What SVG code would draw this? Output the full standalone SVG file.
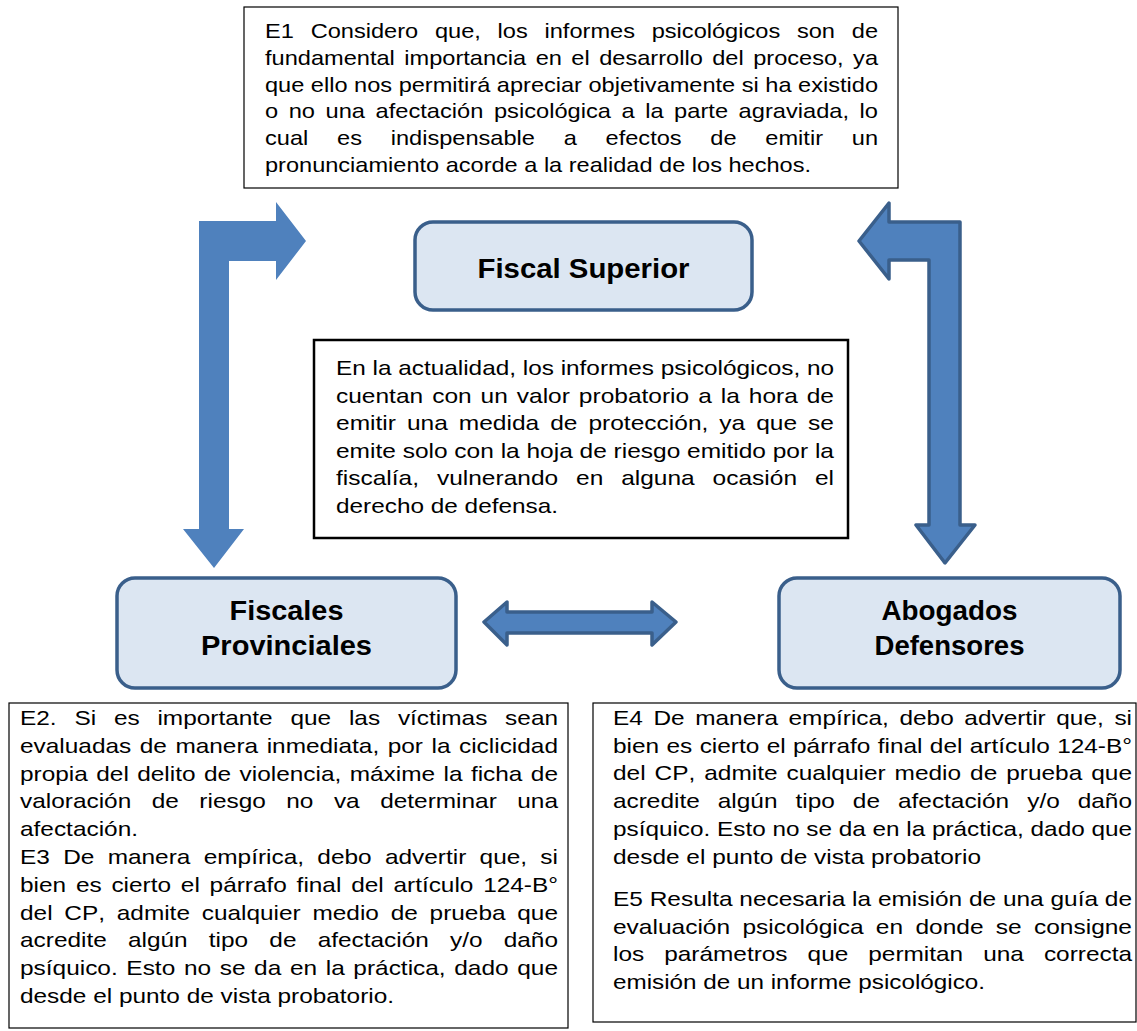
<svg xmlns="http://www.w3.org/2000/svg" width="1137" height="1031" viewBox="0 0 1137 1031">
<style>
.bg{fill:#ffffff}
.note{fill:#ffffff;stroke:#000000;stroke-width:1.2}
.note2{fill:#ffffff;stroke:#000000;stroke-width:2.5}
.node{fill:#DCE6F2;stroke:#3A5F8B;stroke-width:3.5}
.arr{fill:#4F81BD}
.arro{fill:#4F81BD;stroke:#3A5F8B;stroke-width:3.5;stroke-linejoin:round}
text{font-family:"Liberation Sans",Arial,Helvetica,sans-serif;fill:#000000;font-kerning:none}
.t{font-size:21px}
.tt{font-size:20.3px}
.h{font-size:27px;font-weight:bold;text-anchor:middle}
</style>
<rect class="bg" x="0" y="0" width="1137" height="1031"/>

<g id="connectors">
  <polygon class="arr" points="199,221 276,221 276,202 306,241 276,280 276,261 229,261 229,529 244,529 214,568 183,529 199,529"/>
  <polygon class="arro" points="960,222 960,525 975,525 945,563 916,525 929,525 929,260 889,260 889,279 859,241 889,203 889,222"/>
  <polygon class="arro" points="484,622 507,602 507,612 652,612 652,602 676,622 652,645 652,633 507,633 507,645"/>
</g>

<g id="node-e1">
  <rect class="note" x="244" y="7" width="654" height="181"/>
  <text class="tt" x="265" y="38.3" textLength="613" lengthAdjust="spacingAndGlyphs" style="word-spacing:8.8px">E1 Considero que, los informes psicológicos son de</text>
  <text class="tt" x="265" y="65" textLength="613" lengthAdjust="spacingAndGlyphs" style="word-spacing:2.5px">fundamental importancia en el desarrollo del proceso, ya</text>
  <text class="tt" x="265" y="91.7" textLength="613" lengthAdjust="spacingAndGlyphs">que ello nos permitirá apreciar objetivamente si ha existido</text>
  <text class="tt" x="265" y="118.4" textLength="613" lengthAdjust="spacingAndGlyphs" style="word-spacing:3.4px">o no una afectación psicológica a la parte agraviada, lo</text>
  <text class="tt" x="265" y="145" textLength="613" lengthAdjust="spacingAndGlyphs" style="word-spacing:19.1px">cual es indispensable a efectos de emitir un</text>
  <text class="tt" x="265" y="171.7" textLength="546" lengthAdjust="spacingAndGlyphs">pronunciamiento acorde a la realidad de los hechos.</text>
</g>

<g id="node-fiscal-superior">
  <rect class="node" x="415" y="222" width="337" height="88" rx="18" ry="18"/>
  <text class="h" x="583.5" y="278" textLength="212" lengthAdjust="spacingAndGlyphs">Fiscal Superior</text>
</g>

<g id="node-center">
  <rect class="note2" x="314" y="340" width="534" height="198"/>
  <text class="t" x="336" y="375" textLength="498" lengthAdjust="spacingAndGlyphs">En la actualidad, los informes psicológicos, no</text>
  <text class="t" x="336" y="402.6" textLength="498" lengthAdjust="spacingAndGlyphs" style="word-spacing:1.85px">cuentan con un valor probatorio a la hora de</text>
  <text class="t" x="336" y="430.2" textLength="498" lengthAdjust="spacingAndGlyphs" style="word-spacing:3.6px">emitir una medida de protección, ya que se</text>
  <text class="t" x="336" y="457.8" textLength="498" lengthAdjust="spacingAndGlyphs">emite solo con la hoja de riesgo emitido por la</text>
  <text class="t" x="336" y="485.4" textLength="498" lengthAdjust="spacingAndGlyphs" style="word-spacing:9.5px">fiscalía, vulnerando en alguna ocasión el</text>
  <text class="t" x="336" y="513" textLength="222" lengthAdjust="spacingAndGlyphs">derecho de defensa.</text>
</g>

<g id="node-fiscales-provinciales">
  <rect class="node" x="117" y="578" width="339" height="110" rx="18" ry="18"/>
  <text class="h" x="286.5" y="620" textLength="114" lengthAdjust="spacingAndGlyphs">Fiscales</text>
  <text class="h" x="286.5" y="655" textLength="171" lengthAdjust="spacingAndGlyphs">Provinciales</text>
</g>

<g id="node-abogados-defensores">
  <rect class="node" x="779" y="578" width="341" height="110" rx="18" ry="18"/>
  <text class="h" x="949.5" y="620" textLength="136" lengthAdjust="spacingAndGlyphs">Abogados</text>
  <text class="h" x="949.5" y="655" textLength="150" lengthAdjust="spacingAndGlyphs">Defensores</text>
</g>

<g id="node-e2-e3">
  <rect class="note" x="9" y="703" width="559" height="325"/>
  <text class="t" x="20" y="725" textLength="538" lengthAdjust="spacingAndGlyphs" style="word-spacing:9.5px">E2. Si es importante que las víctimas sean</text>
  <text class="t" x="20" y="752.8" textLength="538" lengthAdjust="spacingAndGlyphs" style="word-spacing:1.5px">evaluadas de manera inmediata, por la ciclicidad</text>
  <text class="t" x="20" y="780.6" textLength="538" lengthAdjust="spacingAndGlyphs" style="word-spacing:1.4px">propia del delito de violencia, máxime la ficha de</text>
  <text class="t" x="20" y="808.4" textLength="538" lengthAdjust="spacingAndGlyphs" style="word-spacing:11.8px">valoración de riesgo no va determinar una</text>
  <text class="t" x="20" y="836.2" textLength="118" lengthAdjust="spacingAndGlyphs">afectación.</text>
  <text class="t" x="20" y="864" textLength="538" lengthAdjust="spacingAndGlyphs" style="word-spacing:5.6px">E3 De manera empírica, debo advertir que, si</text>
  <text class="t" x="20" y="891.8" textLength="538" lengthAdjust="spacingAndGlyphs" style="word-spacing:2.6px">bien es cierto el párrafo final del artículo 124-B°</text>
  <text class="t" x="20" y="919.6" textLength="538" lengthAdjust="spacingAndGlyphs" style="word-spacing:4.3px">del CP, admite cualquier medio de prueba que</text>
  <text class="t" x="20" y="947.4" textLength="538" lengthAdjust="spacingAndGlyphs" style="word-spacing:12.4px">acredite algún tipo de afectación y/o daño</text>
  <text class="t" x="20" y="975.2" textLength="538" lengthAdjust="spacingAndGlyphs" style="word-spacing:1.6px">psíquico. Esto no se da en la práctica, dado que</text>
  <text class="t" x="20" y="1003" textLength="374" lengthAdjust="spacingAndGlyphs">desde el punto de vista probatorio.</text>
</g>

<g id="node-e4-e5">
  <rect class="note" x="593" y="703" width="543" height="319"/>
  <text class="t" x="613" y="725" textLength="519" lengthAdjust="spacingAndGlyphs" style="word-spacing:3.3px">E4 De manera empírica, debo advertir que, si</text>
  <text class="t" x="613" y="752.7" textLength="519" lengthAdjust="spacingAndGlyphs" style="word-spacing:0.5px">bien es cierto el párrafo final del artículo 124-B°</text>
  <text class="t" x="613" y="780.4" textLength="519" lengthAdjust="spacingAndGlyphs" style="word-spacing:1.9px">del CP, admite cualquier medio de prueba que</text>
  <text class="t" x="613" y="808.1" textLength="519" lengthAdjust="spacingAndGlyphs" style="word-spacing:9.7px">acredite algún tipo de afectación y/o daño</text>
  <text class="t" x="613" y="835.8" textLength="519" lengthAdjust="spacingAndGlyphs">psíquico. Esto no se da en la práctica, dado que</text>
  <text class="t" x="613" y="863.5" textLength="368" lengthAdjust="spacingAndGlyphs">desde el punto de vista probatorio</text>
  <text class="t" x="613" y="906" textLength="519" lengthAdjust="spacingAndGlyphs">E5 Resulta necesaria la emisión de una guía de</text>
  <text class="t" x="613" y="933.7" textLength="519" lengthAdjust="spacingAndGlyphs" style="word-spacing:4.7px">evaluación psicológica en donde se consigne</text>
  <text class="t" x="613" y="961.4" textLength="519" lengthAdjust="spacingAndGlyphs" style="word-spacing:11.4px">los parámetros que permitan una correcta</text>
  <text class="t" x="613" y="989" textLength="372" lengthAdjust="spacingAndGlyphs">emisión de un informe psicológico.</text>
</g>
</svg>
